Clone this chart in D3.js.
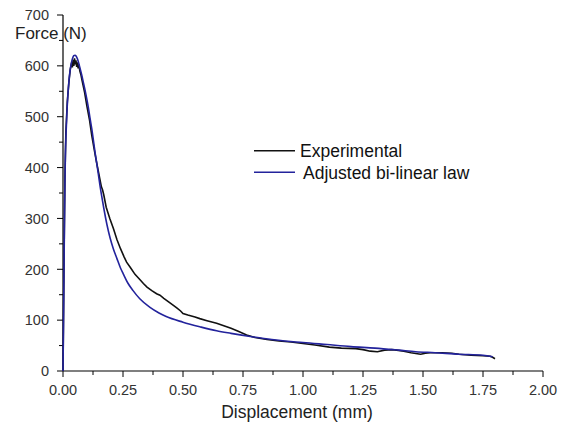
<!DOCTYPE html>
<html><head><meta charset="utf-8">
<script src="https://cdn.jsdelivr.net/npm/d3@7"></script>
<style>body{margin:0;background:#fff}svg{display:block;font-family:"Liberation Sans",Arial,sans-serif}</style>
</head><body><svg id="c" width="564" height="428"></svg>
<script>
const xTicks = [0, 0.25, 0.5, 0.75, 1.0, 1.25, 1.5, 1.75, 2.0];
const yTicks = [0, 100, 200, 300, 400, 500, 600, 700];
const seriesNames = ["Experimental", "Adjusted bi-linear law"];
const expX = [0,0.002,0.005,0.008,0.012,0.018,0.025,0.03,0.033,0.036,0.039,0.042,0.045,0.048,0.051,0.054,0.057,0.06,0.063,0.066,0.07,0.075,0.08,0.09,0.1,0.11,0.12,0.13,0.14,0.15,0.16,0.165,0.17,0.18,0.195,0.21,0.225,0.24,0.255,0.265,0.28,0.3,0.32,0.335,0.35,0.37,0.39,0.404,0.42,0.44,0.46,0.474,0.49,0.5,0.52,0.55,0.57,0.6,0.64,0.67,0.7,0.73,0.765,0.8,0.85,0.9,0.95,1.0,1.05,1.11,1.16,1.22,1.25,1.28,1.31,1.34,1.37,1.39,1.42,1.45,1.49,1.51,1.53,1.58,1.62,1.65,1.7,1.75,1.78,1.79,1.8];
const expY = [0,100,250,380,470,530,570,592,600,606,597,612,600,615,603,611,598,607,595,603,590,582,570,548,520,495,463,436,410,386,362,356,346,322,300,280,258,240,224,214,204,190,180,172,165,158,152,149,143,136,129,124,118,113,110,106,103,99,94,89,84,78,71,66,62,59,57,54,51,47,45,44,42,39,38,41,42,41,39,36,33,35,36,36,35,33,31,30,29,27,24];
const fitX = [0,0.002,0.004,0.006,0.008,0.01,0.013,0.016,0.02,0.025,0.03,0.035,0.04,0.045,0.05,0.055,0.06,0.065,0.07,0.078,0.085,0.095,0.105,0.113,0.12,0.126,0.133,0.14,0.147,0.154,0.162,0.17,0.183,0.196,0.21,0.224,0.24,0.251,0.27,0.292,0.32,0.3625,0.4,0.43,0.5,0.57,0.64,0.7,0.78,0.87,0.97,1.0,1.1,1.2,1.3,1.4,1.47,1.55,1.65,1.75,1.79];
const fitY = [0,90,190,290,370,425,470,505,540,572,592,606,615,620,621,619,614,606,597,582,567,545,520,496,476,456,432,410,388,365,342,320,288,262,240,222,202,191,173,158,142,125,114,107,96,87,79,74,68,62,57,56,52,48,45,41,38,36,33,31,28];

const svg = d3.select("#c");
const x = d3.scaleLinear().domain([0, 2]).range([63, 543]);
const y = d3.scaleLinear().domain([0, 700]).range([371, 15]);

const gx = svg.append("g");
d3.range(0, 2.0001, 0.125).forEach(v => {
  const major = Math.abs(v / 0.25 - Math.round(v / 0.25)) < 1e-6;
  gx.append("line").attr("x1", x(v)).attr("x2", x(v)).attr("y1", 371).attr("y2", 371 + (major ? 6 : 4)).attr("stroke", "#000").attr("stroke-width", 1);
});
const gy = svg.append("g");
d3.range(0, 701, 50).forEach(v => {
  const major = v % 100 === 0;
  gy.append("line").attr("x1", 63 - (major ? 6 : 4)).attr("x2", 63).attr("y1", y(v)).attr("y2", y(v)).attr("stroke", "#000").attr("stroke-width", 1);
});
svg.append("line").attr("x1", 63).attr("x2", 543).attr("y1", 371).attr("y2", 371).attr("stroke", "#000").attr("stroke-width", 1.2);
svg.append("line").attr("x1", 63).attr("x2", 63).attr("y1", 15).attr("y2", 371).attr("stroke", "#000").attr("stroke-width", 1.2);

svg.append("g").selectAll("text").data(xTicks).join("text")
  .attr("x", d => x(d)).attr("y", 395).attr("text-anchor", "middle")
  .attr("font-size", 14.5).attr("fill", "#333").text(d => d.toFixed(2));
svg.append("g").selectAll("text").data(yTicks).join("text")
  .attr("x", 49).attr("y", d => y(d) + 5.3).attr("text-anchor", "end")
  .attr("font-size", 14.5).attr("fill", "#333").text(d => d);

svg.append("text").attr("x", 15).attr("y", 39).attr("font-size", 17).attr("fill", "#222").text("Force (N)");
svg.append("text").attr("x", 297).attr("y", 418).attr("text-anchor", "middle").attr("font-size", 17.5).attr("fill", "#222").text("Displacement (mm)");

const line = d3.line().x(d => x(d[0])).y(d => y(d[1]));
const expData = expX.map((v, i) => [v, expY[i]]);
const fitData = fitX.map((v, i) => [v, fitY[i]]);
svg.append("path").datum(expData).attr("d", line).attr("fill", "none").attr("stroke", "#111").attr("stroke-width", 1.6);
svg.append("path").datum(fitData).attr("d", line.curve(d3.curveMonotoneX)).attr("fill", "none").attr("stroke", "#23239c").attr("stroke-width", 1.6);

const colors = ["#111", "#23239c"];
const lg = svg.append("g");
seriesNames.forEach((n, i) => {
  const yy = 150.7 + i * 21.6;
  lg.append("line").attr("x1", 254).attr("x2", 295).attr("y1", yy).attr("y2", yy).attr("stroke", colors[i]).attr("stroke-width", 1.5);
  lg.append("text").attr("x", 300 + i * 3).attr("y", yy + 6.5).attr("font-size", 17.5).attr("fill", "#111").text(n);
});
</script></body></html>
